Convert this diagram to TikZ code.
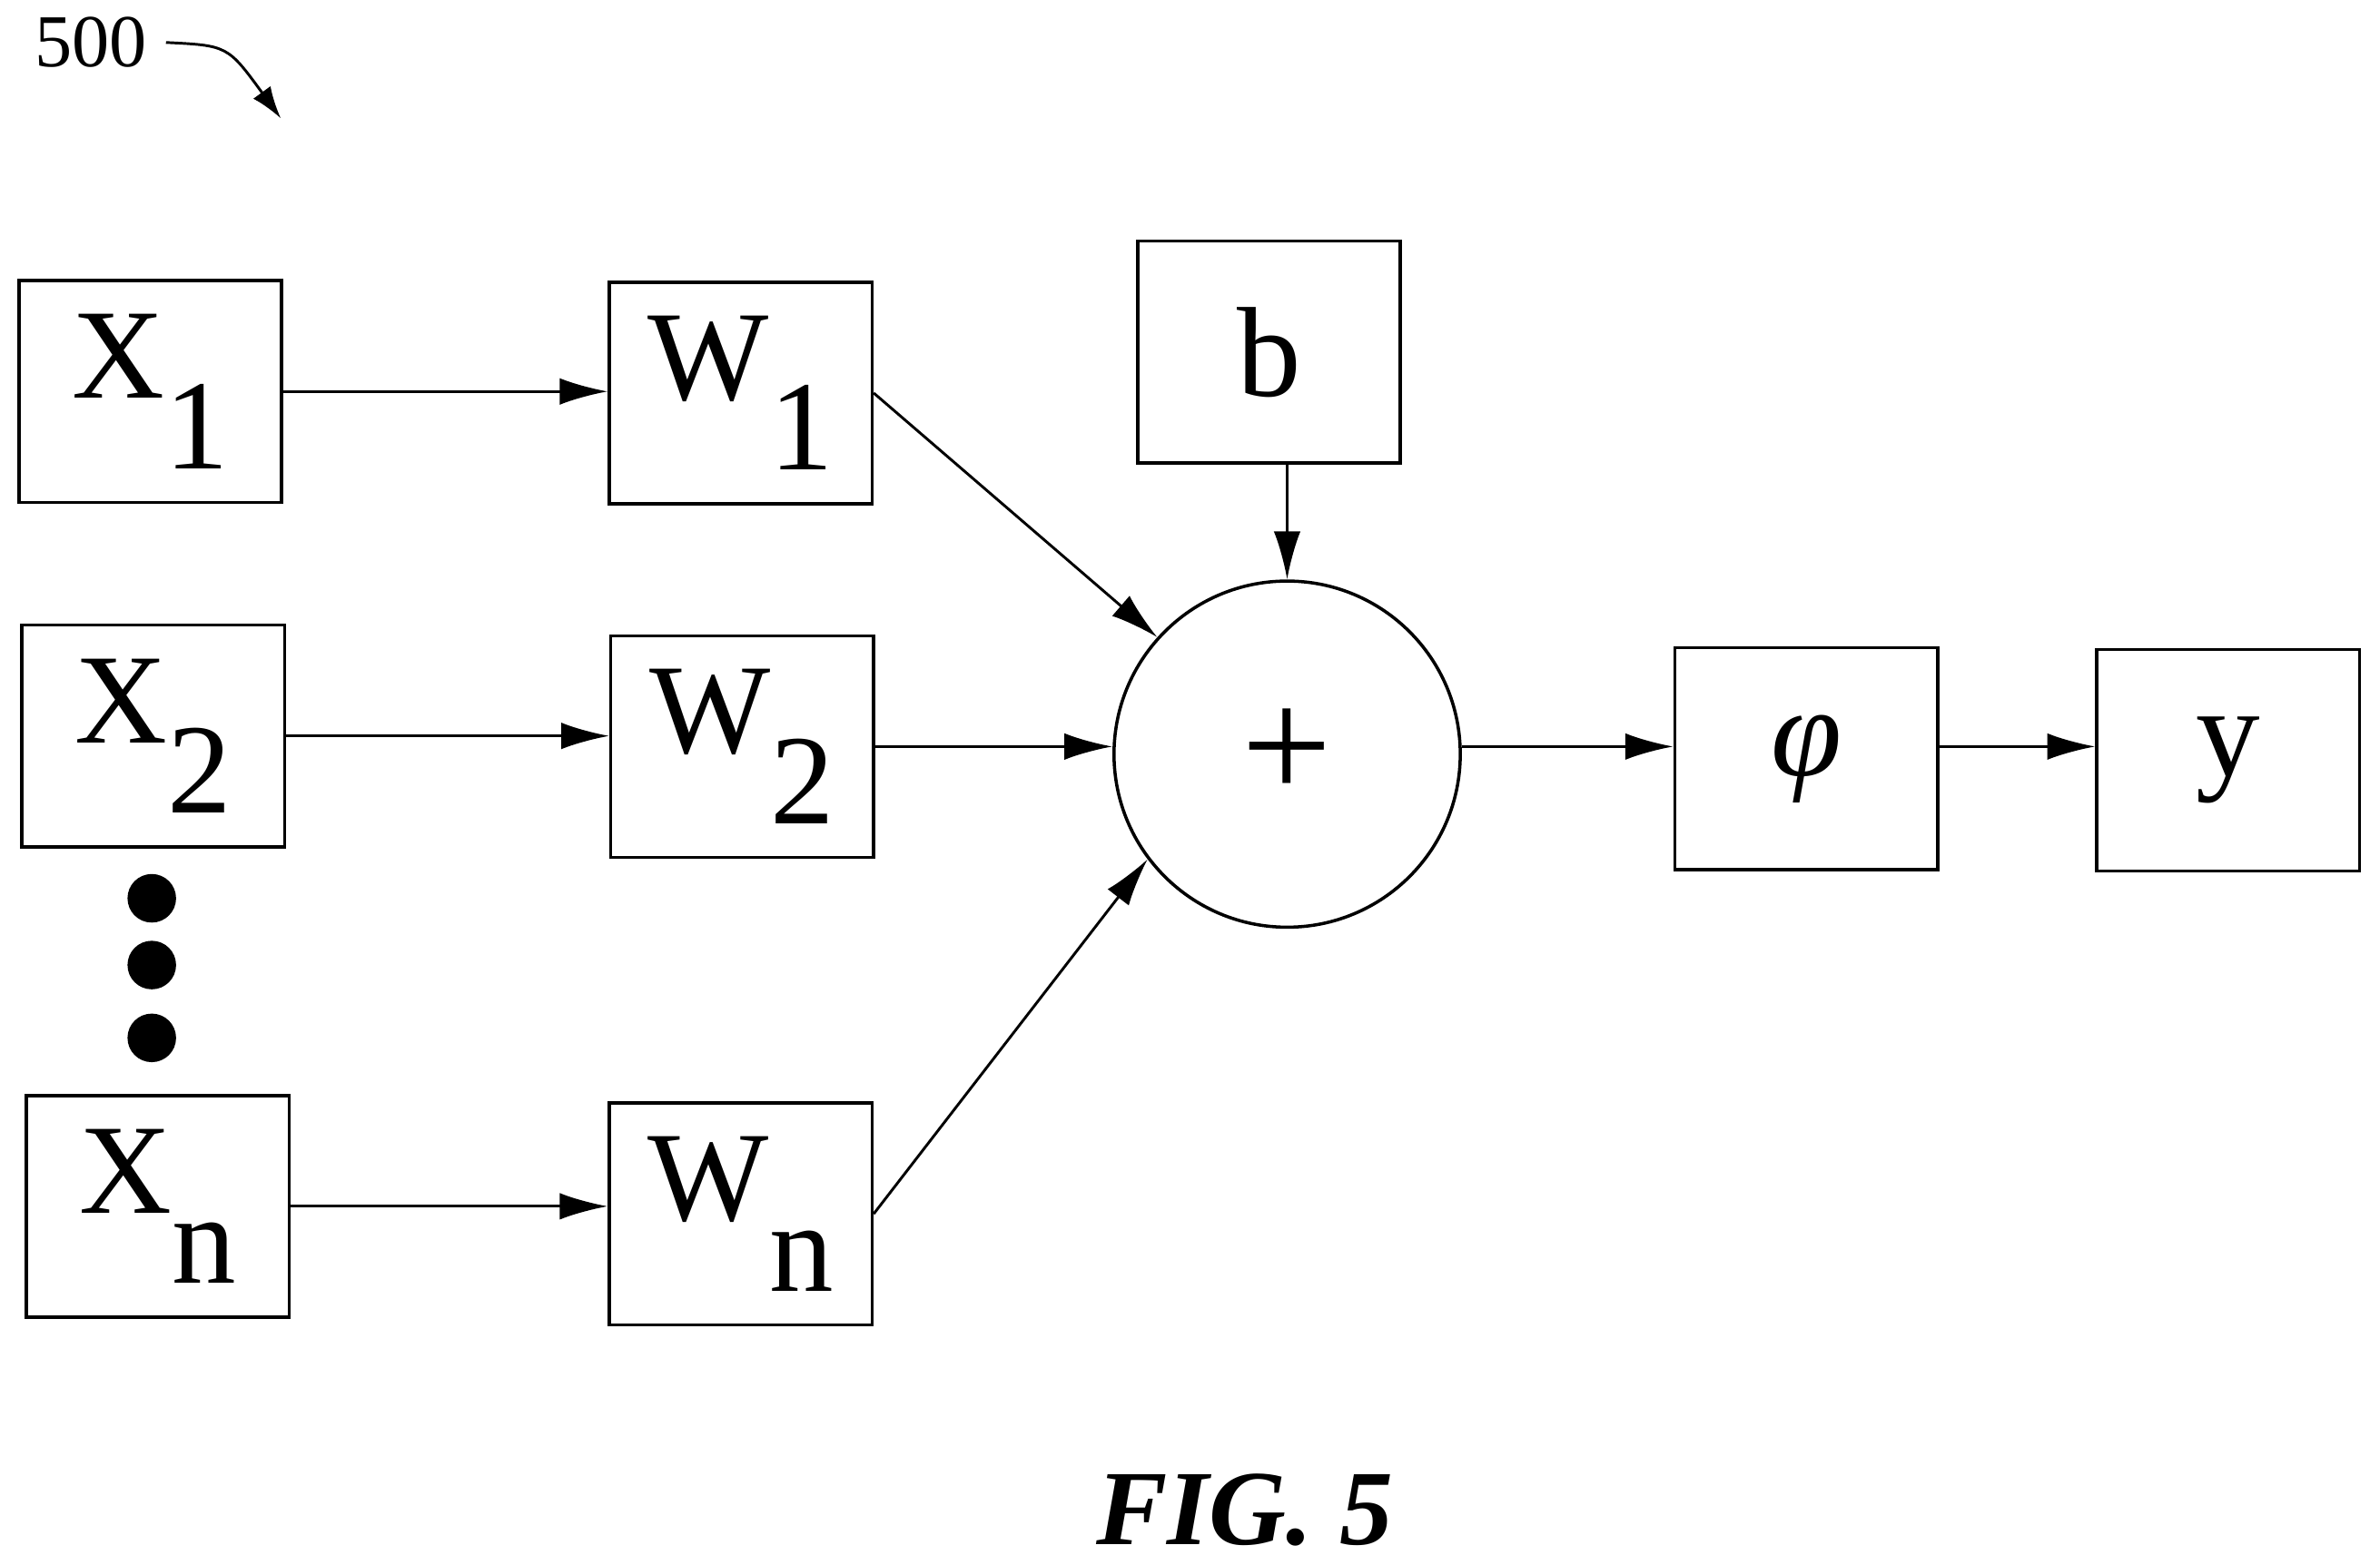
\documentclass[tikz,border=0pt]{standalone}
\usepackage{fontspec}
\setmainfont{Liberation Serif}
\usetikzlibrary{arrows.meta}
\begin{document}
\begin{tikzpicture}[x=0.01cm,y=-0.01cm,
  box/.style={draw,line width=0.6pt,minimum width=1.73cm,minimum height=1.46cm,inner sep=0pt,font=\fontsize{24pt}{24pt}\selectfont},
  arr/.style={-{Latex[length=9pt,width=5pt]},line width=0.5pt}]
\useasboundingbox (0,0) rectangle (1568,1031);
\newcommand{\lbl}[2]{#1\raisebox{-0.55em}{#2}}
\node[box] (x1) at (99,258) {\lbl{X}{1}};
\node[box] (x2) at (101,485) {\lbl{X}{2}};
\node[box] (xn) at (104,795) {\lbl{X}{n}};
\node[box] (w1) at (488,259) {\lbl{W}{1}};
\node[box] (w2) at (489,492) {\lbl{W}{2}};
\node[box] (wn) at (488,800) {\lbl{W}{n}};
\node[box] (b) at (836,232) {b};
\node[draw,circle,line width=0.6pt,minimum size=2.28cm,inner sep=0pt,font=\fontsize{30pt}{30pt}\selectfont] (c) at (848,497) {+};
\node[box] (phi) at (1190,500) {\itshape φ};
\node[box] (y) at (1468,501) {y};
\foreach \yy [count=\i] in {592,636,684} \fill (100,\yy) circle (16) coordinate (d\i);
\draw[arr] (x1) -- (w1.west |- x1);
\draw[arr] (x2) -- (w2.west |- x2);
\draw[arr] (xn) -- (wn.west |- xn);
\draw[arr] (w1.east) -- (c.138);
\draw[arr] (w2.east) -- (c.west |- w2.east);
\draw[arr] (wn.east) -- (c.217);
\draw[arr] (b.south -| c) -- (c.north);
\draw[arr] (c.east |- 0,492) coordinate (ce) -- (phi.west |- ce);
\draw[arr] (phi.east |- ce) -- (y.west |- ce);
\node[font=\fontsize{14pt}{14pt}\selectfont] (n500) at (60,28) {500};
\coordinate (n500e) at (185,78);
\draw[-{Latex[length=6pt,width=4pt]},line width=0.5pt] (n500.east) .. controls (150,30) .. (n500e);
\node[font=\fontsize{20pt}{20pt}\selectfont\bfseries\itshape] (fig) at (820,995) {FIG. 5};
\end{tikzpicture}
\end{document}
